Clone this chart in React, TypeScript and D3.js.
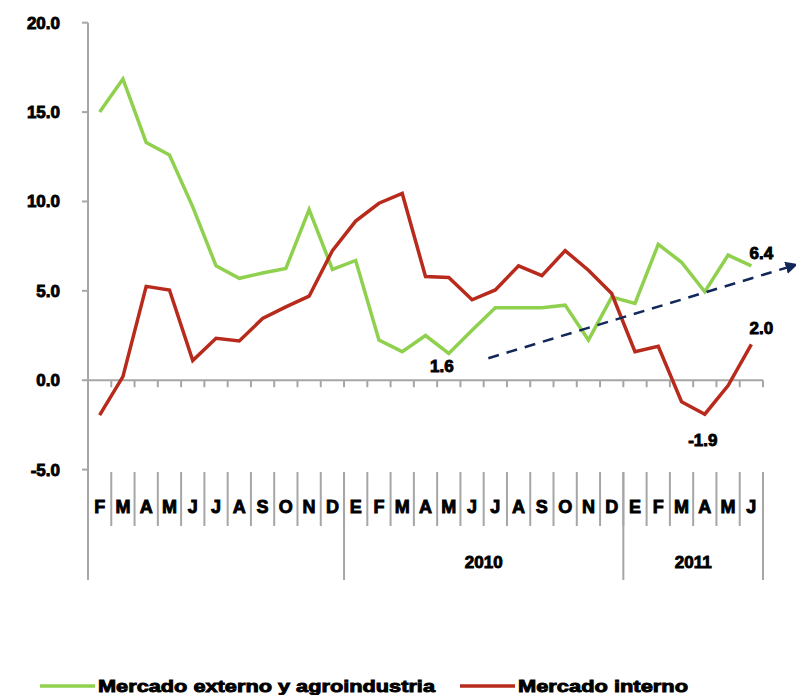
import React from "react";
import * as d3 from "d3";

const months = ["F","M","A","M","J","J","A","S","O","N","D","E","F","M","A","M","J","J","A","S","O","N","D","E","F","M","A","M","J"];
const externo = [15.0,16.85,13.3,12.6,9.7,6.4,5.7,6.0,6.25,9.55,6.2,6.7,2.25,1.6,2.5,1.5,2.8,4.05,4.05,4.05,4.2,2.25,4.65,4.3,7.6,6.6,4.95,7.0,6.4];
const interno = [-1.95,0.2,5.25,5.05,1.1,2.35,2.2,3.45,4.1,4.7,7.25,8.9,9.9,10.45,5.8,5.75,4.5,5.05,6.4,5.85,7.25,6.15,4.85,1.6,1.9,-1.2,-1.9,-0.3,2.0];
const yTicks = [-5,0,5,10,15,20];
const groups = [
  { label: "", start: 0, end: 11 },
  { label: "2010", start: 11, end: 23 },
  { label: "2011", start: 23, end: 29 },
];
const annotations = [
  { series: "externo", index: 15, text: "1.6", dx: -7, dy: 13 },
  { series: "externo", index: 28, text: "6.4", dx: 10, dy: -13 },
  { series: "interno", index: 28, text: "2.0", dx: 10, dy: -16 },
  { series: "interno", index: 26, text: "-1.9", dx: -2, dy: 26 },
];
const trend = { from: [17.2, 1.23], to: [30.4, 6.45] };

const GREEN = "#8fd14f";
const RED = "#b82a1c";
const AXIS = "#a6a6a6";
const FONT = "'Liberation Sans', Arial, sans-serif";

export default function App() {
  const W = 796, H = 695;
  const x0 = 88, x1 = 763;
  const x = d3.scaleBand<number>().domain(d3.range(months.length)).range([x0, x1]);
  const y = d3.scaleLinear().domain([-5, 20]).range([469.6, 22.7]);
  const cx = (i: number) => (x(i) as number) + x.bandwidth() / 2;
  const line = d3.line<number>().x((_, i) => cx(i)).y((d) => y(d));
  const bw = x.bandwidth();
  const bandEdge = (i: number) => x0 + i * bw;
  const tx = (v: number) => x0 + v * bw;

  const textStyle = { fontFamily: FONT, fontWeight: 700, fill: "#000", stroke: "#000", strokeWidth: 0.9 } as const;

  return (
    <svg width={W} height={H} style={{ display: "block", position: "absolute", left: 0, top: 0 }}>
      <rect width={W} height={H} fill="#fff" />
      <defs>
        <marker id="arr" viewBox="0 0 10 10" refX="8" refY="5" markerWidth="5" markerHeight="5" orient="auto">
          <path d="M0,0 L10,5 L0,10 z" fill="#13285a" />
        </marker>
      </defs>
      {/* y axis */}
      <line x1={x0} x2={x0} y1={y(20)} y2={580} stroke={AXIS} strokeWidth={2} />
      {yTicks.map((t) => (
        <g key={t}>
          <line x1={x0 - 6} x2={x0} y1={y(t)} y2={y(t)} stroke={AXIS} strokeWidth={2} />
          <text x={60} y={y(t)} dy="0.35em" textAnchor="end" fontSize={17} style={textStyle}>
            {t.toFixed(1)}
          </text>
        </g>
      ))}
      {/* zero axis */}
      <line x1={x0} x2={x1} y1={y(0)} y2={y(0)} stroke={AXIS} strokeWidth={2} />
      {d3.range(1, months.length + 1).map((i) => (
        <line key={i} x1={bandEdge(i)} x2={bandEdge(i)} y1={y(0)} y2={y(0) + 7} stroke={AXIS} strokeWidth={2} />
      ))}
      {/* category boxes */}
      {d3.range(1, months.length).map((i) => (
        <line key={"c" + i} x1={bandEdge(i)} x2={bandEdge(i)} y1={472} y2={526} stroke={AXIS} strokeWidth={2} />
      ))}
      {groups.map((g, k) => (
        <g key={"g" + k}>
          <line x1={bandEdge(g.end)} x2={bandEdge(g.end)} y1={472} y2={580} stroke={AXIS} strokeWidth={2} />
          {g.label && (
            <text x={(bandEdge(g.start) + bandEdge(g.end)) / 2} y={562} dy="0.35em" textAnchor="middle" fontSize={17} style={textStyle}>
              {g.label}
            </text>
          )}
        </g>
      ))}
      {months.map((m, i) => (
        <text key={"m" + i} x={cx(i)} y={507} dy="0.35em" textAnchor="middle" fontSize={18} style={textStyle}>
          {m}
        </text>
      ))}
      {/* series */}
      <path d={line(externo) || ""} fill="none" stroke={GREEN} strokeWidth={3.5} strokeLinejoin="miter" />
      <path d={line(interno) || ""} fill="none" stroke={RED} strokeWidth={3.5} strokeLinejoin="miter" />
      {/* trend arrow */}
      <line
        x1={tx(trend.from[0])} y1={y(trend.from[1])}
        x2={tx(trend.to[0])} y2={y(trend.to[1])}
        stroke="#13285a" strokeWidth={2.5} strokeDasharray="11,8" markerEnd="url(#arr)"
      />
      {/* annotations */}
      {annotations.map((a, k) => {
        const v = (a.series === "externo" ? externo : interno)[a.index];
        return (
          <text key={"a" + k} x={cx(a.index) + a.dx} y={y(v) + a.dy} dy="0.35em" textAnchor="middle" fontSize={17} style={textStyle}>
            {a.text}
          </text>
        );
      })}
      {/* legend */}
      <line x1={40} x2={95} y1={686} y2={686} stroke={GREEN} strokeWidth={3.5} />
      <text x={98} y={686} dy="0.35em" fontSize={17} style={textStyle} textLength={337} lengthAdjust="spacingAndGlyphs">
        Mercado externo y agroindustria
      </text>
      <line x1={460} x2={515} y1={686} y2={686} stroke={RED} strokeWidth={3.5} />
      <text x={518} y={686} dy="0.35em" fontSize={17} style={textStyle} textLength={170} lengthAdjust="spacingAndGlyphs">
        Mercado interno
      </text>
    </svg>
  );
}
